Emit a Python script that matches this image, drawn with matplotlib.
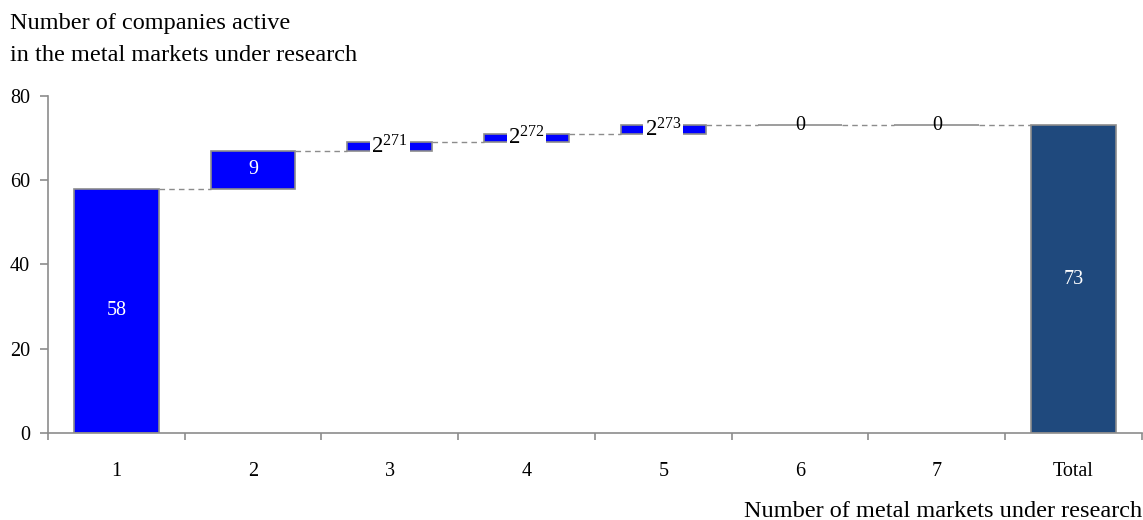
import numpy as np
import matplotlib.pyplot as plt

plt.rcParams['font.family'] = ['Liberation Serif', 'DejaVu Serif']
plt.rcParams['mathtext.fontset'] = 'custom'
plt.rcParams['mathtext.rm'] = 'Liberation Serif'

# Waterfall data: companies by number of metal markets
categories = ['1', '2', '3', '4', '5', '6', '7']
increments = [58, 9, 2, 2, 2, 0, 0]
footnotes = ['', '', '271', '272', '273', '', '']
total_label = 'Total'

total = sum(increments)
bottoms = np.concatenate([[0], np.cumsum(increments)[:-1]])
tops = bottoms + np.array(increments)

fig = plt.figure(figsize=(11.43, 5.2), dpi=100)
ax = fig.add_axes([0.042, 0.1673, 0.957, 0.6481])

width = 0.62
grey = '#8c8c8c'
fs = 14.5
x = np.arange(len(categories))
ax.bar(x, increments, width, bottom=bottoms, color='#0000ff',
       edgecolor=grey, linewidth=1.2, zorder=2)
ax.bar(len(categories), total, width, color='#1f497d',
       edgecolor=grey, linewidth=1.2, zorder=2)

# dashed connectors between bars
for i in range(len(categories)):
    ax.plot([x[i] + width / 2, x[i] + 1 - width / 2], [tops[i], tops[i]],
            color=grey, linestyle=(0, (4, 3)), linewidth=1, zorder=1)

# value labels
for i, v in enumerate(increments):
    y = bottoms[i] + v / 2
    if v >= 5:
        ax.text(x[i], y, str(v), color='white', fontsize=fs,
                ha='center', va='center', zorder=3)
    elif v > 0:
        ax.text(x[i], y, r'$\mathregular{%d^{%s}}$' % (v, footnotes[i]),
                color='black', fontsize=16.5, ha='center', va='center',
                zorder=3, bbox=dict(facecolor='white', edgecolor='none', pad=1))
    else:
        ax.text(x[i], y, str(v), color='black', fontsize=fs,
                ha='center', va='center', zorder=3)
ax.text(len(categories), total / 2, str(total), color='white', fontsize=fs,
        ha='center', va='center', zorder=3)

ax.set_xlim(-0.5, len(categories) + 0.5)
ax.set_ylim(0, 80)
ax.set_yticks([0, 20, 40, 60, 80])

ax.set_xticks(np.arange(len(categories) + 1))
ax.set_xticklabels(categories + [total_label])
ax.set_xticks(np.arange(-0.5, len(categories) + 1, 1), minor=True)
ax.tick_params(axis='x', which='major', length=0, pad=21, labelsize=fs)
ax.tick_params(axis='x', which='minor', length=5, color=grey, width=1.2)
ax.tick_params(axis='y', length=6, color=grey, width=1.2, labelsize=fs, pad=7)

for side in ['top', 'right']:
    ax.spines[side].set_visible(False)
for side in ['left', 'bottom']:
    ax.spines[side].set_color(grey)
    ax.spines[side].set_linewidth(1.2)

fig.text(0.009, 1 - 29 / 520, 'Number of companies active',
         fontsize=17.5, ha='left', va='baseline')
fig.text(0.009, 1 - 61 / 520, 'in the metal markets under research',
         fontsize=17.5, ha='left', va='baseline')
fig.text(0.999, 3 / 520, 'Number of metal markets under research',
         fontsize=17.5, ha='right', va='baseline')

fig.savefig('out.png', dpi=100)
